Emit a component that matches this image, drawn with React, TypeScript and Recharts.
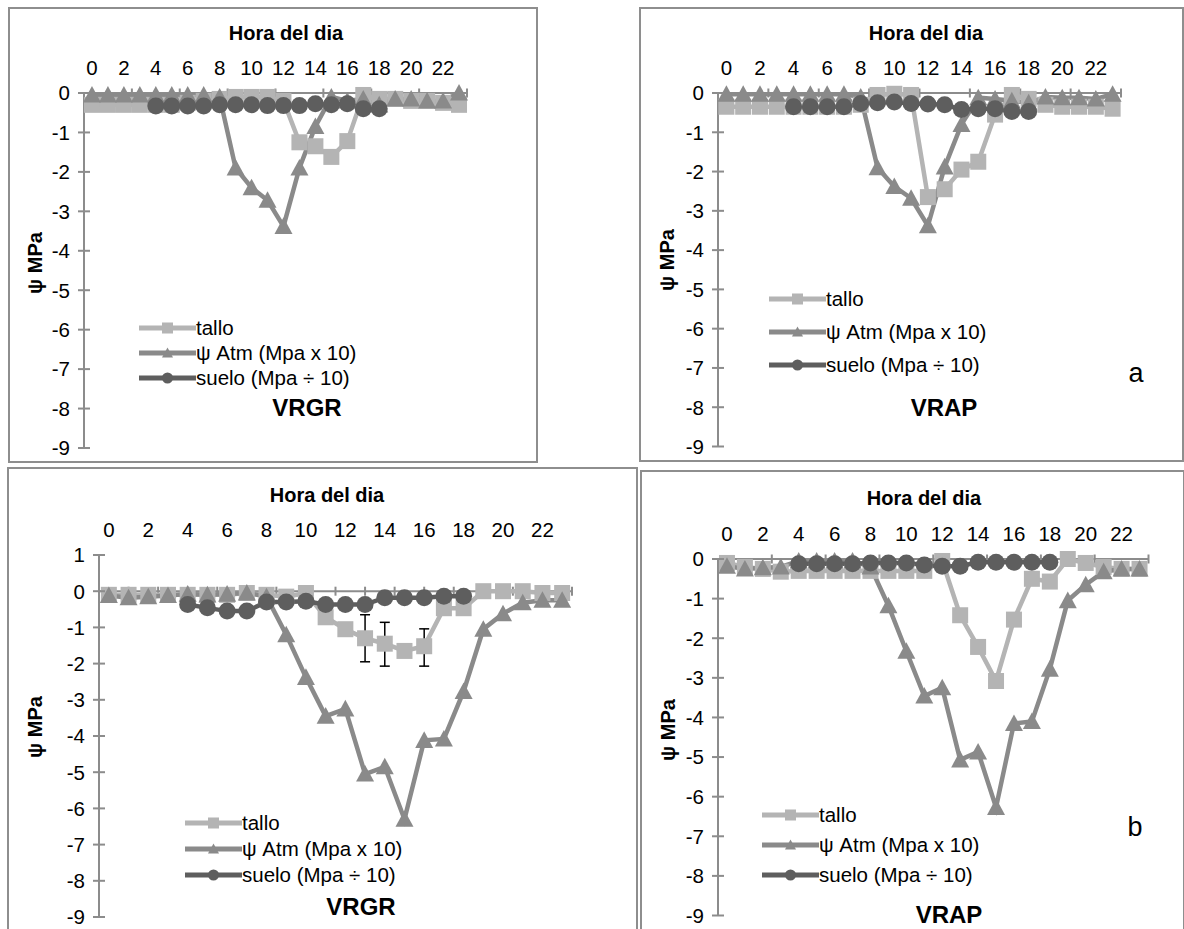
import React from "react";
import { LineChart, Line, XAxis, YAxis, ReferenceLine, ErrorBar, Legend } from "recharts";

const FONT = '"Liberation Sans", Arial, Helvetica, sans-serif';
const TALLO_C = "#b4b4b4";
const ATM_C = "#8a8a8a";
const SUELO_C = "#5e5e5e";
const AXIS_C = "#8c8c8c";
const TICK_FS = 20.5;

const hours = [0, 1, 2, 3, 4, 5, 6, 7, 8, 9, 10, 11, 12, 13, 14, 15, 16, 17, 18, 19, 20, 21, 22, 23];
const hourTicks = [0, 2, 4, 6, 8, 10, 12, 14, 16, 18, 20, 22];

// fila a, VRGR
const talloTL = [-0.3, -0.3, -0.3, -0.3, -0.3, -0.3, -0.25, -0.2, -0.15, -0.1, -0.1, -0.1, -0.2, -1.25, -1.35, -1.62, -1.22, -0.05, -0.15, -0.15, -0.2, -0.2, -0.25, -0.3];
const atmTL = [-0.05, -0.05, -0.05, -0.05, -0.05, -0.05, -0.05, -0.05, -0.1, -1.9, -2.4, -2.72, -3.38, -1.9, -0.85, -0.1, -0.2, -0.15, -0.3, -0.15, -0.15, -0.2, -0.2, 0];
const sueloTL = [null, null, null, null, -0.33, -0.33, -0.33, -0.33, -0.3, -0.3, -0.3, -0.32, -0.32, -0.32, -0.27, -0.3, -0.27, -0.4, -0.4, null, null, null, null, null];

// fila a, VRAP
const talloTR = [-0.35, -0.35, -0.35, -0.35, -0.35, -0.35, -0.35, -0.35, -0.3, -0.05, -0.02, -0.05, -2.65, -2.45, -1.95, -1.75, -0.55, -0.05, -0.15, -0.3, -0.35, -0.35, -0.35, -0.4];
const atmTR = [-0.03, -0.03, -0.03, -0.03, -0.03, -0.03, -0.03, -0.03, -0.1, -1.9, -2.38, -2.68, -3.38, -1.88, -0.8, -0.12, -0.15, -0.2, -0.25, -0.1, -0.12, -0.12, -0.15, -0.03];
const sueloTR = [null, null, null, null, -0.35, -0.35, -0.35, -0.35, -0.27, -0.25, -0.23, -0.27, -0.28, -0.3, -0.42, -0.4, -0.4, -0.47, -0.47, null, null, null, null, null];

// fila b, VRGR
const talloBL = [-0.1, -0.1, -0.1, -0.1, -0.1, -0.1, -0.1, -0.05, -0.1, -0.15, -0.05, -0.72, -1.05, -1.3, -1.45, -1.65, -1.52, -0.47, -0.47, 0, 0, 0, -0.05, -0.05];
const atmBL = [-0.12, -0.18, -0.15, -0.12, -0.08, -0.1, -0.08, -0.05, -0.15, -1.2, -2.38, -3.45, -3.25, -5.05, -4.85, -6.3, -4.12, -4.08, -2.77, -1.05, -0.62, -0.32, -0.25, -0.25];
const sueloBL = [null, null, null, null, -0.37, -0.46, -0.55, -0.55, -0.3, -0.3, -0.28, -0.37, -0.37, -0.37, -0.18, -0.18, -0.18, -0.14, -0.14, null, null, null, null, null];
const errBL = [null, null, null, null, null, null, null, null, null, null, null, null, null, [0.65, 0.65], [0.62, 0.59], null, [0.55, 0.48], null, null, null, null, null, null, null];

// fila b, VRAP
const talloBR = [-0.1, -0.2, -0.25, -0.32, -0.3, -0.3, -0.3, -0.3, -0.3, -0.3, -0.3, -0.3, -0.05, -1.42, -2.22, -3.08, -1.53, -0.5, -0.57, 0, -0.1, -0.2, -0.25, -0.25];
const atmBR = [-0.18, -0.25, -0.22, -0.2, -0.05, -0.05, -0.05, -0.05, -0.2, -1.18, -2.33, -3.46, -3.25, -5.07, -4.87, -6.27, -4.15, -4.1, -2.78, -1.05, -0.65, -0.32, -0.25, -0.25];
const sueloBR = [null, null, null, null, -0.12, -0.12, -0.12, -0.12, -0.1, -0.1, -0.1, -0.15, -0.18, -0.18, -0.08, -0.08, -0.08, -0.08, -0.08, null, null, null, null, null];

const legendItems = [
  { name: "tallo", color: TALLO_C, shape: "square" },
  { name: "ψ Atm (Mpa x 10)", color: ATM_C, shape: "triangle" },
  { name: "suelo (Mpa ÷ 10)", color: SUELO_C, shape: "circle" },
];

const panels = [
  {
    box: { x: 8, y: 7, w: 530, h: 456 },
    plot: { left: 84, top: 93, right: 467, bottom: 448 },
    yMax: 0, tickStep: 3, tickMargin: 18,
    title: { x: 286, y: 33 }, ylab: { x: 35, y: 263 },
    legend: { x: 139, y: 328, rowH: 25 },
    tag: { text: "VRGR", x: 307, y: 408 }, letter: null,
    tallo: talloTL, atm: atmTL, suelo: sueloTL, err: null,
  },
  {
    box: { x: 639, y: 7, w: 545, h: 455 },
    plot: { left: 718, top: 93, right: 1121, bottom: 446.5 },
    yMax: 0, tickStep: 3, tickMargin: 18,
    title: { x: 926, y: 33 }, ylab: { x: 667, y: 260 },
    legend: { x: 769, y: 299, rowH: 33 },
    tag: { text: "VRAP", x: 944, y: 408 }, letter: { text: "a", x: 1136, y: 373 },
    tallo: talloTR, atm: atmTR, suelo: sueloTR, err: null,
  },
  {
    box: { x: 7, y: 467, w: 631, h: 475 },
    plot: { left: 99, top: 555, right: 572, bottom: 917 },
    yMax: 1, tickStep: 1.5, tickMargin: 18,
    title: { x: 327, y: 495 }, ylab: { x: 35, y: 727 },
    legend: { x: 185, y: 823, rowH: 26 },
    tag: { text: "VRGR", x: 361, y: 907 }, letter: null,
    tallo: talloBL, atm: atmBL, suelo: sueloBL, err: errBL,
  },
  {
    box: { x: 640, y: 470, w: 545, h: 470 },
    plot: { left: 718, top: 559, right: 1148.5, bottom: 915.5 },
    yMax: 0, tickStep: 3, tickMargin: 18.5,
    title: { x: 924, y: 498 }, ylab: { x: 668, y: 730 },
    legend: { x: 762, y: 815, rowH: 30 },
    tag: { text: "VRAP", x: 949, y: 915 }, letter: { text: "b", x: 1135, y: 827 },
    tallo: talloBR, atm: atmBR, suelo: sueloBR, err: null,
  },
];

function Marker({ shape, cx, cy, s, color }: any) {
  if (shape === "square") {
    return <rect x={cx - s / 2} y={cy - s / 2} width={s} height={s} fill={color} />;
  }
  if (shape === "triangle") {
    const pts = `${cx},${cy - s * 0.5} ${cx + s / 2},${cy + s * 0.42} ${cx - s / 2},${cy + s * 0.42}`;
    return <polygon points={pts} fill={color} />;
  }
  return <circle cx={cx} cy={cy} r={s / 2} fill={color} />;
}

const dotFor = (shape: string, color: string, s: number) => (p: any) => {
  if (p.cx == null || p.cy == null || p.value == null) return <g key={`e${p.index}`} />;
  return <Marker key={`d${p.index}`} shape={shape} cx={p.cx} cy={p.cy} s={s} color={color} />;
};

const YTick = (props: any) => {
  const { x, y, payload } = props;
  return (
    <g>
      <line x1={x - 6} x2={x + 6} y1={y} y2={y} stroke={AXIS_C} strokeWidth={2} />
      <text x={x - 14} y={y} dy="0.36em" textAnchor="end" fontSize={TICK_FS} fontFamily={FONT} fill="#000">
        {payload.value}
      </text>
    </g>
  );
};

function LegendBox({ rowH }: { rowH: number }) {
  return (
    <div style={{ fontFamily: FONT, fontSize: 20.5, color: "#000" }}>
      {legendItems.map((it) => (
        <div key={it.name} style={{ display: "flex", alignItems: "center", height: rowH }}>
          <svg width={57} height={16} style={{ display: "block" }}>
            <line x1={0} x2={57} y1={8} y2={8} stroke={it.color} strokeWidth={5} />
            <Marker shape={it.shape} cx={28.5} cy={8} s={11} color={it.color} />
          </svg>
          <span style={{ whiteSpace: "nowrap", lineHeight: 1 }}>{it.name}</span>
        </div>
      ))}
    </div>
  );
}

const textStyle = (x: number, y: number, extra: any) => ({
  position: "absolute" as const,
  left: x,
  top: y,
  transform: "translate(-50%, -50%)",
  fontFamily: FONT,
  color: "#000",
  whiteSpace: "nowrap" as const,
  lineHeight: 1,
  ...extra,
});

function Panel({ cfg }: any) {
  const rows = hours.map((h, i) => ({
    hour: h,
    tallo: cfg.tallo[i],
    atm: cfg.atm[i],
    suelo: cfg.suelo[i],
    err: cfg.err ? cfg.err[i] : null,
  }));
  const yw = 60;
  const xh = 40;
  const margin = {
    top: cfg.plot.top - cfg.box.y - xh,
    left: cfg.plot.left - cfg.box.x - yw,
    right: cfg.box.x + cfg.box.w - cfg.plot.right,
    bottom: cfg.box.y + cfg.box.h - cfg.plot.bottom,
  };
  const yTicks: number[] = [];
  for (let v = -9; v <= cfg.yMax; v++) yTicks.push(v);
  const xMarks: number[] = [];
  for (let t = -0.5 + cfg.tickStep; t <= 23.5 + 1e-6; t += cfg.tickStep) xMarks.push(t);
  const markH = 4.5 / ((cfg.plot.bottom - cfg.plot.top) / (cfg.yMax + 9));

  return (
    <>
      <div
        style={{
          position: "absolute",
          left: cfg.box.x,
          top: cfg.box.y,
          width: cfg.box.w,
          height: cfg.box.h,
          border: "2px solid #8e8e8e",
          boxSizing: "border-box",
          background: "#fff",
        }}
      />
      <div style={{ position: "absolute", left: cfg.box.x, top: cfg.box.y }}>
        <LineChart width={cfg.box.w} height={cfg.box.h} data={rows} margin={margin}>
          <XAxis
            dataKey="hour"
            type="number"
            orientation="top"
            domain={[-0.5, 23.5]}
            ticks={hourTicks}
            interval={0}
            height={xh}
            axisLine={false}
            tickLine={false}
            tickSize={0}
            tickMargin={cfg.tickMargin}
            tick={{ fontSize: TICK_FS, fill: "#000", fontFamily: FONT }}
          />
          <YAxis
            type="number"
            domain={[-9, cfg.yMax]}
            ticks={yTicks}
            interval={0}
            width={yw}
            axisLine={{ stroke: AXIS_C, strokeWidth: 2 }}
            tickLine={false}
            tickSize={0}
            tickMargin={0}
            tick={<YTick />}
          />
          <ReferenceLine y={0} stroke={AXIS_C} strokeWidth={2} />
          {xMarks.map((t) => (
            <ReferenceLine
              key={t}
              segment={[{ x: t, y: markH }, { x: t, y: -markH }]}
              stroke={AXIS_C}
              strokeWidth={2}
              ifOverflow="visible"
            />
          ))}
          <Line
            dataKey="tallo"
            name="tallo"
            stroke={TALLO_C}
            strokeWidth={4.5}
            dot={dotFor("square", TALLO_C, 16)}
            activeDot={false}
            isAnimationActive={false}
          >
            {cfg.err && <ErrorBar dataKey="err" width={5} strokeWidth={1.5} stroke="#000" direction="y" />}
          </Line>
          <Line
            dataKey="atm"
            name="ψ Atm (Mpa x 10)"
            stroke={ATM_C}
            strokeWidth={4.5}
            dot={dotFor("triangle", ATM_C, 18)}
            activeDot={false}
            isAnimationActive={false}
          />
          <Line
            dataKey="suelo"
            name="suelo (Mpa ÷ 10)"
            stroke={SUELO_C}
            strokeWidth={4.5}
            dot={dotFor("circle", SUELO_C, 17)}
            activeDot={false}
            isAnimationActive={false}
          />
          <Legend
            layout="vertical"
            align="center"
            verticalAlign="middle"
            wrapperStyle={{
              left: cfg.legend.x - cfg.box.x,
              top: cfg.legend.y - cfg.legend.rowH / 2 - cfg.box.y,
              width: "auto",
            }}
            content={() => <LegendBox rowH={cfg.legend.rowH} />}
          />
        </LineChart>
      </div>
      <div style={textStyle(cfg.title.x, cfg.title.y, { fontSize: 20, fontWeight: "bold" })}>Hora del dia</div>
      <div style={textStyle(cfg.ylab.x, cfg.ylab.y, { fontSize: 20, fontWeight: "bold", transform: "translate(-50%, -50%) rotate(-90deg)" })}>
        ψ MPa
      </div>
      <div style={textStyle(cfg.tag.x, cfg.tag.y, { fontSize: 24, fontWeight: "bold" })}>{cfg.tag.text}</div>
      {cfg.letter && <div style={textStyle(cfg.letter.x, cfg.letter.y, { fontSize: 27 })}>{cfg.letter.text}</div>}
    </>
  );
}

export default function App() {
  return (
    <div
      style={{
        position: "absolute",
        left: 0,
        top: 0,
        width: 1184,
        height: 929,
        overflow: "hidden",
        background: "#fff",
      }}
    >
      {panels.map((p, i) => (
        <Panel key={i} cfg={p} />
      ))}
    </div>
  );
}
